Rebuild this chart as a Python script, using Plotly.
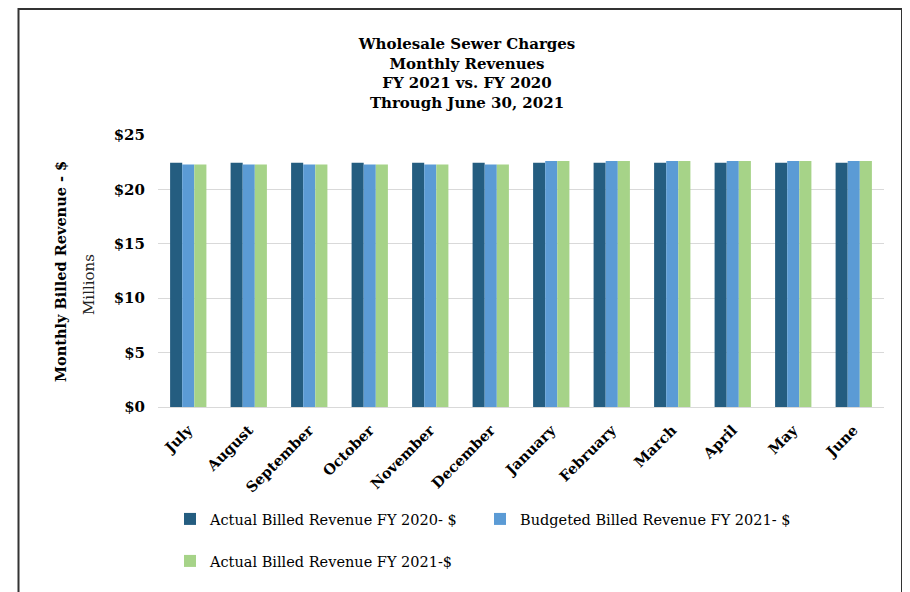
import plotly.graph_objects as go

months = ["July", "August", "September", "October", "November", "December",
          "January", "February", "March", "April", "May", "June"]
actual_fy2020 = [22.45, 22.45, 22.45, 22.45, 22.45, 22.45, 22.45, 22.45, 22.45, 22.45, 22.45, 22.45]
budget_fy2021 = [22.3, 22.3, 22.3, 22.3, 22.3, 22.3, 22.6, 22.6, 22.6, 22.6, 22.6, 22.6]
actual_fy2021 = [22.3, 22.3, 22.3, 22.3, 22.3, 22.3, 22.6, 22.6, 22.6, 22.6, 22.6, 22.6]
y_ticks = [0, 5, 10, 15, 20, 25]
y_tick_labels = ["$0", "$5", "$10", "$15", "$20", "$25"]

series_names = ["Actual Billed Revenue FY 2020- $",
                "Budgeted Billed Revenue FY 2021- $",
                "Actual Billed Revenue FY 2021-$"]
colors = ["#245d80", "#5b9bd5", "#a6d388"]
legend_ids = ["legend", "legend2", "legend3"]

SERIF = "DejaVu Serif"

fig = go.Figure()
for i, (name, vals) in enumerate(zip(series_names, [actual_fy2020, budget_fy2021, actual_fy2021])):
    fig.add_trace(go.Bar(
        x=months, y=vals, name=name, marker_color=colors[i],
        marker_line_width=0, legend=legend_ids[i], showlegend=True,
    ))

# page has an 8px body margin; design in page coordinates and convert
OFF = 8
W, H = 910 - OFF, 592 - OFF
PL, PR, PT, PB = 158, 884, 135, 407   # plot area in page coordinates
L, T = PL - OFF, PT - OFF
R = W - (PR - OFF)
B = H - (PB - OFF)
pw, ph = PR - PL, PB - PT

def px(x):
    return (x - PL) / pw

def py(y):
    return (PB - y) / ph

legend_font = dict(family=SERIF, size=14.5, color="#000000")

fig.update_layout(
    width=W, height=H,
    margin=dict(l=L, r=R, t=T, b=B),
    paper_bgcolor="white", plot_bgcolor="white",
    showlegend=True,
    barmode="group", bargap=0.4, bargroupgap=0,
    font=dict(family=SERIF, color="#000000"),
    title=dict(
        text="<b>Wholesale Sewer Charges<br>Monthly Revenues<br>FY 2021 vs. FY 2020<br>Through June 30, 2021</b>",
        x=(467 - OFF) / W, xanchor="center", y=1 - (49 - OFF) / H, yanchor="top",
        font=dict(family=SERIF, size=15, color="#000000"),
    ),
    xaxis=dict(
        tickangle=-45, tickfont=dict(family=SERIF, size=14.5, color="#000000", weight="bold"),
        showgrid=False, showline=True, linecolor="#d9d9d9", linewidth=1, ticks="",
        ticklabelstandoff=8,
    ),
    yaxis=dict(
        range=[0, 25], tickvals=y_ticks, ticktext=y_tick_labels,
        tickfont=dict(family=SERIF, size=15, color="#000000", weight="bold"),
        showgrid=True, gridcolor="#d9d9d9", gridwidth=1, zeroline=False,
        ticks="", ticklabelstandoff=12,
    ),
    legend=dict(orientation="h", x=px(170), xanchor="left", y=py(503), yanchor="top",
                font=legend_font, itemwidth=30, bgcolor="rgba(0,0,0,0)"),
    legend2=dict(orientation="h", x=px(480), xanchor="left", y=py(503), yanchor="top",
                 font=legend_font, itemwidth=30, bgcolor="rgba(0,0,0,0)"),
    legend3=dict(orientation="h", x=px(170), xanchor="left", y=py(545), yanchor="top",
                 font=legend_font, itemwidth=30, bgcolor="rgba(0,0,0,0)"),
    shapes=[dict(
        type="rect", xref="paper", yref="paper",
        x0=px(18.5), x1=px(902), y0=py(620), y1=py(9),
        line=dict(color="#333333", width=2), fillcolor="rgba(0,0,0,0)", layer="below",
    )],
    annotations=[
        dict(text="<b>Monthly Billed Revenue - $</b>", xref="paper", yref="paper",
             x=px(60), y=py(272), textangle=-90, showarrow=False,
             font=dict(family=SERIF, size=14.5, color="#000000"), xanchor="center", yanchor="middle"),
        dict(text="Millions", xref="paper", yref="paper",
             x=px(89), y=py(285), textangle=-90, showarrow=False,
             font=dict(family=SERIF, size=15, color="#222222"), xanchor="center", yanchor="middle"),
    ],
)

fig.write_html("out.html")
